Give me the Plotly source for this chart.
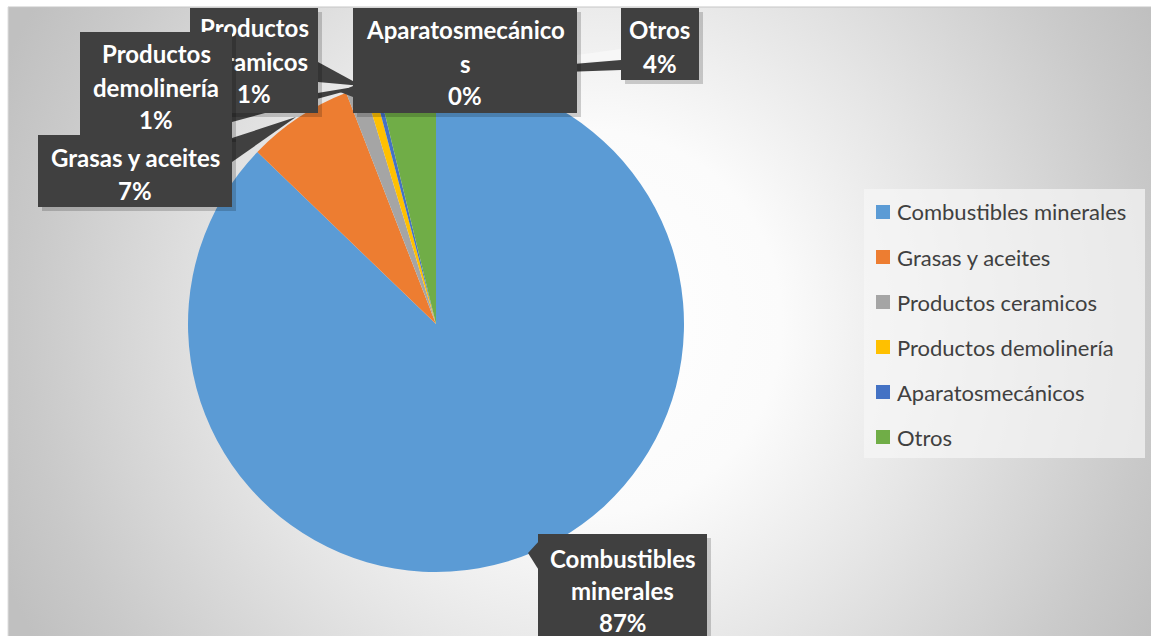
import base64
import plotly.graph_objects as go

# ---------------- data ----------------
labels = ["Combustibles minerales", "Grasas y aceites", "Productos ceramicos",
          "Productos demolinería", "Aparatosmecánicos", "Otros"]
values = [87.2, 6.9, 1.2, 0.6, 0.3, 3.8]
colors = ["#5B9BD5", "#ED7D31", "#A5A5A5", "#FFC000", "#4472C4", "#70AD47"]
callout_lines = [["Combustibles", "minerales"], ["Grasas y aceites"],
                 ["Productos", "ceramicos"], ["Productos", "demolinería"],
                 ["Aparatosmecánico", "s"], ["Otros"]]

W, H = 1151, 636
CX0, CY0 = 8, 7  # top-left corner of the chart area


def px(x):
    return x / W


def py(y):
    return 1 - y / H


# ---------------- background gradient ----------------
GW, GH = W - CX0, H - CY0
gcx, gcy = 590 - CX0, 322 - CY0
svg = (
    f"<svg xmlns='http://www.w3.org/2000/svg' width='{GW}' height='{GH}' viewBox='0 0 {GW} {GH}' "
    "preserveAspectRatio='none'>"
    f"<defs><radialGradient id='g' gradientUnits='userSpaceOnUse' cx='{gcx}' cy='{gcy}' r='640'>"
    "<stop offset='0' stop-color='#ffffff'/>"
    "<stop offset='0.3' stop-color='#fbfbfb'/>"
    "<stop offset='0.55' stop-color='#e6e6e6'/>"
    "<stop offset='0.88' stop-color='#c9c9c9'/>"
    "<stop offset='1' stop-color='#c0c0c0'/>"
    "</radialGradient></defs>"
    f"<rect x='0' y='0' width='{GW}' height='{GH}' fill='url(#g)'/>"
    "</svg>"
)
bg_uri = "data:image/svg+xml;base64," + base64.b64encode(svg.encode()).decode()

fig = go.Figure()

fig.add_trace(go.Pie(
    labels=labels, values=values,
    marker=dict(colors=colors, line=dict(width=0)),
    sort=False, direction="clockwise", rotation=0,
    textinfo="none", hoverinfo="label+percent",
    showlegend=False,
    domain=dict(x=[px(188), px(684)], y=[py(572), py(76)]),
))

shapes = []
annotations = []

# chart-area border
shapes.append(dict(type="line", xref="paper", yref="paper", x0=px(CX0), x1=1,
                   y0=py(CY0), y1=py(CY0), line=dict(color="#c6c6c6", width=1), layer="below"))
shapes.append(dict(type="line", xref="paper", yref="paper", x0=px(CX0), x1=px(CX0),
                   y0=0, y1=py(CY0), line=dict(color="#dedede", width=1), layer="below"))

# callout geometry (box: x0, y0, x1, y1 in px; line centres y; pointer polygon)
callout_boxes = {
    2: (190, 8, 318, 113),
    3: (80, 32, 232, 138),
    1: (38, 135, 232, 207),
    4: (353, 8, 577, 113),
    5: (621, 8, 699, 80),
    0: (538, 534, 707, 660),
}
callout_line_y = {
    2: [28, 62, 94],
    3: [54, 88, 120],
    1: [157, 190],
    4: [30, 63, 96],
    5: [30, 63],
    0: [558, 590, 622],
}
pointers = {
    1: [(232, 138), (232, 162), (296, 117)],
    3: [(232, 107), (232, 122), (372, 84)],
    2: [(318, 62), (318, 82), (362, 86)],
    4: [(353, 86), (353, 97), (340, 92)],
    5: [(621, 60), (621, 70), (420, 77)],
    0: [(540, 540), (540, 572), (528, 553)],
}

total = sum(values)
pcts = [round(100 * v / total) for v in values]

# light highlight above the "Otros" pointer
shapes.append(dict(type="path", xref="paper", yref="paper",
                   path=f"M {px(577)},{py(55)} L {px(621)},{py(49)} L {px(621)},{py(60)} L {px(577)},{py(62)} Z",
                   fillcolor="#f7f7f7", line=dict(width=0), layer="above"))

for i, poly in pointers.items():
    path = "M " + " L ".join(f"{px(x)},{py(y)}" for x, y in poly) + " Z"
    shapes.append(dict(type="path", xref="paper", yref="paper", path=path,
                       fillcolor="#404040", line=dict(width=0), layer="above"))

label_font = dict(family="Lato", size=24, color="white")
for i in [2, 3, 1, 4, 5, 0]:
    x0, y0, x1, y1 = callout_boxes[i]
    # soft drop shadow
    annotations.append(dict(
        xref="paper", yref="paper", x=px((x0 + x1) / 2 + 4), y=py((y0 + y1) / 2 + 4),
        xanchor="center", yanchor="middle", text=" ", showarrow=False,
        width=x1 - x0, height=y1 - y0, bgcolor="rgba(0,0,0,0.18)", borderpad=0, borderwidth=0,
    ))
    annotations.append(dict(
        xref="paper", yref="paper", x=px((x0 + x1) / 2), y=py((y0 + y1) / 2),
        xanchor="center", yanchor="middle", text=" ", showarrow=False,
        width=x1 - x0, height=y1 - y0, bgcolor="#404040", borderpad=0, borderwidth=0,
    ))
    lines = callout_lines[i] + [f"{pcts[i]}%"]
    for t, yy in zip(lines, callout_line_y[i]):
        annotations.append(dict(
            xref="paper", yref="paper", x=px((x0 + x1) / 2), y=py(yy),
            xanchor="center", yanchor="middle", text=f"<b>{t}</b>", showarrow=False,
            font=label_font,
        ))

# manual legend
shapes.append(dict(type="rect", xref="paper", yref="paper", x0=px(864), x1=px(1145),
                   y0=py(458), y1=py(189), fillcolor="rgba(246,246,246,0.7)",
                   line=dict(width=0), layer="below"))
legend_y = [212, 257, 302, 347, 392, 437]
for lab, col, yy in zip(labels, colors, legend_y):
    shapes.append(dict(type="rect", xref="paper", yref="paper", x0=px(876), x1=px(890),
                       y0=py(yy + 7), y1=py(yy - 7), fillcolor=col, line=dict(width=0)))
    annotations.append(dict(
        xref="paper", yref="paper", x=px(895), y=py(yy), xanchor="left", yanchor="middle",
        text=lab, showarrow=False, font=dict(family="Lato", size=22, color="#404040"),
    ))

fig.update_layout(
    width=W, height=H,
    margin=dict(l=0, r=0, t=0, b=0),
    paper_bgcolor="white", plot_bgcolor="white",
    shapes=shapes, annotations=annotations,
    images=[dict(source=bg_uri, xref="paper", yref="paper", x=px(CX0), y=py(CY0),
                 sizex=1 - px(CX0), sizey=py(CY0), xanchor="left", yanchor="top",
                 sizing="stretch", layer="below")],
)

fig.write_html(
    "out.html",
    config={"displayModeBar": False},
    post_script="document.body.style.margin='0';document.body.style.overflow='hidden';",
)
